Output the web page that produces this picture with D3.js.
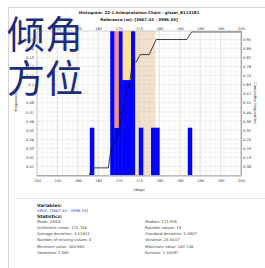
<!DOCTYPE html>
<html><head><meta charset="utf-8">
<script src="https://cdn.jsdelivr.net/npm/d3@7/dist/d3.min.js"></script>
<style>html,body{margin:0;padding:0;background:#fff;}svg{display:block;}</style>
</head><body>
<script>
const titleLines = ["Histogram: 22-1.Interpretation Chain - glsser_B113181", "Reference (m): [3667.42 - 3996.55]"];
const xTicks = [150,155,160,165,170,175,180,185,190,195,200];
const freqTicks = [0.01,0.02,0.03,0.04,0.05,0.06,0.07,0.08,0.09,0.1,0.11,0.12,0.13,0.14,0.15];
const cumTickLabels = ["0.06","0.13","0.19","0.25","0.32","0.38","0.44","0.51","0.57","0.63","0.70","0.76","0.82","0.89","0.95"];
const binStart = [163,168,169,170,171,172,173,175,178,179,187];
const binFreq  = [0.0526,0.16,0.0526,0.16,0.105,0.105,0.16,0.0526,0.0526,0.0526,0.0526];
const overStart = [169,171,172];
const overFrom  = [0.0526,0.105,0.105];
const overTo    = [0.16,0.16,0.16];
const overCat   = ["a","b","b"];
const bandRange = [174,179];
const cumX = [150,162.7,163.9,167.5,168.1,169.6,170.3,171.6,172.8,173.4,174.3,175.3,177.5,179.2,186.7,187.9,200];
const cumY = [0,0,0.053,0.053,0.18,0.27,0.35,0.53,0.665,0.79,0.79,0.842,0.842,0.947,0.947,1,1];
const statsLeft = ["Mode: 169.6","Arithmetic mean: 172.738","Average deviation: 3.51631","Number of missing values: 0","Minimum value: 163.983","Skewness: 1.061"];
const statsRight = ["Median: 171.976","Possible values: 19","Standard deviation: 5.0607","Variance: 25.6107","Maximum value: 187.148","Kurtosis: 1.33597"];
const bigText = ["倾角","方位"];

const W=265,H=268;
const svg=d3.select("body").append("svg").attr("width",W).attr("height",H);
svg.append("rect").attr("width",W).attr("height",H).attr("fill","#fff");
const F="DejaVu Sans, Verdana, sans-serif";

svg.append("line").attr("x1",8.5).attr("x2",8.5).attr("y1",7).attr("y2",H).attr("stroke","#d6d6d6");
svg.append("line").attr("x1",8.5).attr("x2",W).attr("y1",7.5).attr("y2",7.5).attr("stroke","#d6d6d6");
svg.append("line").attr("x1",17).attr("x2",W).attr("y1",198.5).attr("y2",198.5).attr("stroke","#e4e4e4");

svg.selectAll("text.title").data(titleLines).join("text")
  .attr("x",139).attr("y",(d,i)=>14+i*7).attr("text-anchor","middle")
  .attr("font-family",F).attr("font-size",3.9).attr("font-weight","bold").attr("fill","#222").text(d=>d);

const L=37,R=241,T=31,B=175.5;
const x=d3.scaleLinear().domain([150,200]).range([L,R]);
const y=d3.scaleLinear().domain([0,0.159]).range([B,T]);
const y2=d3.scaleLinear().domain([0,0.159/0.158]).range([B,T]);

const g=svg.append("g");
const minorX=d3.range(150,200.01,1.25);
g.selectAll("line.mx").data(minorX).join("line").attr("x1",d=>x(d)).attr("x2",d=>x(d)).attr("y1",T).attr("y2",B).attr("stroke","#f0f0f0").attr("stroke-width",0.6);
const minorY=d3.range(0.005,0.159,0.01);
g.selectAll("line.my").data(minorY).join("line").attr("y1",d=>y(d)).attr("y2",d=>y(d)).attr("x1",L).attr("x2",R).attr("stroke","#f0f0f0").attr("stroke-width",0.6);
g.selectAll("line.gx").data(xTicks).join("line").attr("x1",d=>x(d)).attr("x2",d=>x(d)).attr("y1",T).attr("y2",B).attr("stroke","#dedede").attr("stroke-width",0.7);
g.selectAll("line.gy").data(freqTicks).join("line").attr("y1",d=>y(d)).attr("y2",d=>y(d)).attr("x1",L).attr("x2",R).attr("stroke","#e2e2e2").attr("stroke-width",0.7);

svg.append("clipPath").attr("id","cp").append("rect").attr("x",L).attr("y",T).attr("width",R-L).attr("height",B-T);
const pg=svg.append("g").attr("clip-path","url(#cp)");
pg.append("rect").attr("x",x(bandRange[0])).attr("width",x(bandRange[1])-x(bandRange[0])).attr("y",T).attr("height",B-T)
  .attr("fill","rgb(226,180,135)").attr("fill-opacity",0.38);
pg.selectAll("rect.bar").data(binStart).join("rect")
  .attr("x",d=>x(d)-0.2).attr("width",d=>x(d+1)-x(d)+0.4).attr("y",(d,i)=>y(binFreq[i])).attr("height",(d,i)=>y(0)-y(binFreq[i]))
  .attr("fill","#0000ff");
const overColor={a:"#f28b8b",b:"#fde39a"};
pg.selectAll("rect.ov").data(overStart).join("rect")
  .attr("x",d=>x(d)).attr("width",d=>x(d+1)-x(d)+0.2).attr("y",(d,i)=>y(overTo[i])).attr("height",(d,i)=>y(overFrom[i])-y(overTo[i]))
  .attr("fill",(d,i)=>overColor[overCat[i]]);
const line=d3.line().x(d=>x(d[0])).y(d=>y2(d[1]));
pg.append("path").datum(cumX.map((v,i)=>[v,cumY[i]])).attr("d",line).attr("fill","none").attr("stroke","#111").attr("stroke-width",0.8);

svg.append("line").attr("x1",L).attr("x2",R).attr("y1",T).attr("y2",T).attr("stroke","#bbb").attr("stroke-width",0.7);
svg.append("line").attr("x1",L).attr("x2",L).attr("y1",T).attr("y2",B).attr("stroke","#bbb").attr("stroke-width",0.7);
svg.append("line").attr("x1",L).attr("x2",R+0.8).attr("y1",B+0.4).attr("y2",B+0.4).attr("stroke","#aaa").attr("stroke-width",1.4);
svg.append("line").attr("x1",R+0.4).attr("x2",R+0.4).attr("y1",T).attr("y2",B).attr("stroke","#aaa").attr("stroke-width",1.4);

const tf=s=>s.attr("font-family",F).attr("font-size",3.6).attr("fill","#333");
const ax=svg.append("g").attr("transform",`translate(0,${B+1})`).call(d3.axisBottom(x).tickValues(xTicks).tickSize(0).tickPadding(3));
ax.select(".domain").remove(); tf(ax.selectAll("text"));
const axT=svg.append("g").attr("transform",`translate(0,${T})`).call(d3.axisTop(x).tickValues(xTicks).tickSize(0).tickPadding(1.5));
axT.select(".domain").remove(); tf(axT.selectAll("text"));
const ayL=svg.append("g").attr("transform",`translate(${L-3},0)`).call(d3.axisLeft(y).tickValues(freqTicks).tickSize(0).tickPadding(0).tickFormat(d3.format("")));
ayL.select(".domain").remove(); tf(ayL.selectAll("text"));
const ayR=svg.append("g").attr("transform",`translate(${R+2},0)`).call(d3.axisRight(y).tickValues(freqTicks).tickSize(0).tickPadding(0).tickFormat((d,i)=>cumTickLabels[i]));
ayR.select(".domain").remove(); tf(ayR.selectAll("text"));

svg.append("text").attr("x",139).attr("y",191).attr("text-anchor","middle").attr("font-family",F).attr("font-size",3.6).attr("fill","#333").text("(degs)");
svg.append("text").attr("transform","translate(17,101) rotate(-90)").attr("text-anchor","middle").attr("font-family",F).attr("font-size",3.5).attr("fill","#333").text("Frequencies");
svg.append("text").attr("transform","translate(254,103) rotate(90)").attr("text-anchor","middle").attr("font-family",F).attr("font-size",3.5).attr("fill","#333").text("Cumulative frequencies");

svg.append("text").attr("x",37).attr("y",206.5).attr("font-family",F).attr("font-size",4.4).attr("font-weight","bold").attr("fill","#222").text("Variables:");
svg.append("text").attr("x",37).attr("y",212).attr("font-family",F).attr("font-size",3.8).attr("fill","#3344cc").text("DPAZ: [3667.42 - 3996.55]");
svg.append("text").attr("x",37).attr("y",217.5).attr("font-family",F).attr("font-size",4.4).attr("font-weight","bold").attr("fill","#222").text("Statistics:");
svg.selectAll("text.sl").data(statsLeft).join("text").attr("x",37).attr("y",(d,i)=>222.8+i*6.2)
  .attr("font-family",F).attr("font-size",3.8).attr("fill","#444").text(d=>d);
svg.selectAll("text.sr").data(statsRight).join("text").attr("x",145).attr("y",(d,i)=>222.8+i*6.2)
  .attr("font-family",F).attr("font-size",3.8).attr("fill","#444").text(d=>d);

svg.selectAll("text.big").data(bigText).join("text").attr("x",7).attr("y",(d,i)=>48+i*44)
  .attr("font-family","Noto Sans CJK SC, sans-serif").attr("font-size",38).attr("fill","#1c2c80").text(d=>d);
</script>
</body></html>
